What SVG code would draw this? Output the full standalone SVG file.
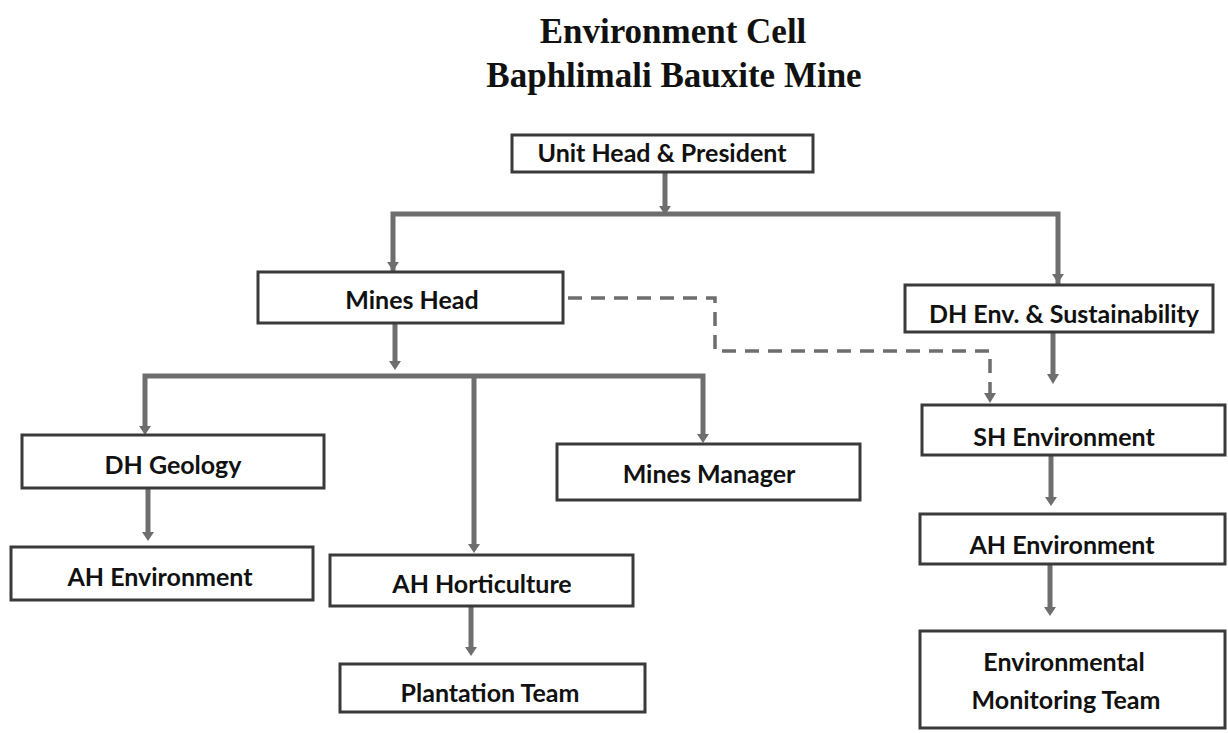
<svg xmlns="http://www.w3.org/2000/svg" width="1228" height="733" viewBox="0 0 1228 733">
<defs>
<style>
.box{fill:#fff;stroke:#3a3a3a;stroke-width:3}
.lbl{font-family:Lato,"Open Sans",sans-serif;font-weight:bold;font-size:25px;fill:#111;text-anchor:middle}
.ttl{font-family:"Liberation Serif",serif;font-weight:bold;font-size:35px;fill:#111;text-anchor:middle}
.ln{fill:none;stroke:#6e6e6e;stroke-width:5}
.dash{fill:none;stroke:#6e6e6e;stroke-width:3.5;stroke-dasharray:14,9}
.hd{fill:#6e6e6e}
</style>
</defs>
<rect width="1228" height="733" fill="#fff"/>
<text class="ttl" x="673" y="43">Environment Cell</text>
<text class="ttl" x="674" y="87">Baphlimali Bauxite Mine</text>

<g id="connectors">
<line class="ln" x1="665" y1="172" x2="665" y2="206"/>
<path class="hd" d="M659,206 L671,206 L665,215 Z"/>
<path class="ln" d="M393,272 V214 H1058 V284"/>
<path class="hd" d="M387,262 L399,262 L393,271 Z"/>
<path class="hd" d="M1052,274 L1064,274 L1058,283 Z"/>
<path class="dash" d="M568,298 H715 V351 H990 V396"/>
<path class="hd" d="M984,393 L996,393 L990,403 Z"/>
<line class="ln" x1="1053" y1="332" x2="1053" y2="375"/>
<path class="hd" d="M1047,374 L1059,374 L1053,384 Z"/>
<line class="ln" x1="395" y1="323" x2="395" y2="362"/>
<path class="hd" d="M389,361 L401,361 L395,370 Z"/>
<path class="ln" d="M145,428 V376 H703 V438"/>
<path class="hd" d="M139,426 L151,426 L145,435 Z"/>
<path class="hd" d="M697,434 L709,434 L703,443 Z"/>
<line class="ln" x1="474" y1="376" x2="474" y2="545"/>
<path class="hd" d="M468,544 L480,544 L474,553 Z"/>
<line class="ln" x1="148" y1="489" x2="148" y2="533"/>
<path class="hd" d="M142,532 L154,532 L148,541 Z"/>
<line class="ln" x1="471" y1="607" x2="471" y2="648"/>
<path class="hd" d="M465,647 L477,647 L471,656 Z"/>
<line class="ln" x1="1051" y1="455" x2="1051" y2="498"/>
<path class="hd" d="M1045,497 L1057,497 L1051,506 Z"/>
<line class="ln" x1="1050" y1="565" x2="1050" y2="608"/>
<path class="hd" d="M1044,607 L1056,607 L1050,616 Z"/>
</g>

<g id="unit-head"><rect class="box" x="512" y="135" width="301" height="37"/><text class="lbl" x="662" y="162">Unit Head &amp; President</text></g>
<g id="mines-head"><rect class="box" x="258" y="272" width="305" height="51"/><text class="lbl" x="412" y="309">Mines Head</text></g>
<g id="dh-env"><rect class="box" x="905" y="285" width="308" height="47"/><text class="lbl" x="1064" y="323">DH Env. &amp; Sustainability</text></g>
<g id="sh-env"><rect class="box" x="922" y="405" width="303" height="50"/><text class="lbl" x="1064" y="446">SH Environment</text></g>
<g id="dh-geology"><rect class="box" x="22" y="435" width="302" height="53"/><text class="lbl" x="173" y="474">DH Geology</text></g>
<g id="mines-manager"><rect class="box" x="557" y="444" width="303" height="56"/><text class="lbl" x="709" y="483">Mines Manager</text></g>
<g id="ah-env-left"><rect class="box" x="11" y="547" width="302" height="53"/><text class="lbl" x="160" y="586">AH Environment</text></g>
<g id="ah-horticulture"><rect class="box" x="330" y="555" width="303" height="51"/><text class="lbl" x="482" y="593">AH Horticulture</text></g>
<g id="ah-env-right"><rect class="box" x="920" y="514" width="305" height="50"/><text class="lbl" x="1062" y="554">AH Environment</text></g>
<g id="plantation"><rect class="box" x="340" y="664" width="305" height="48"/><text class="lbl" x="490" y="702">Plantation Team</text></g>
<g id="env-monitoring"><rect class="box" x="920" y="631" width="305" height="97"/><text class="lbl" x="1064" y="671">Environmental</text><text class="lbl" x="1066" y="709">Monitoring Team</text></g>
</svg>
